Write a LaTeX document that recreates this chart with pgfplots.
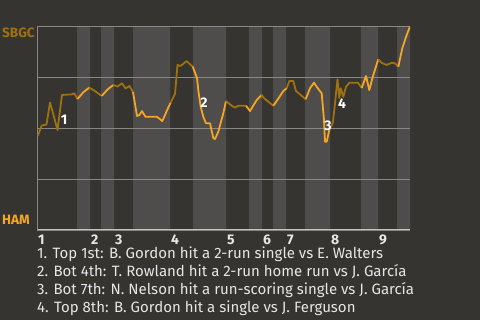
\documentclass[border=0pt]{standalone}
\usepackage{pgfplots}
\pgfplotsset{compat=1.18}
\usepackage{fontspec}
\setmainfont{Fira Sans}
\definecolor{bg}{HTML}{363431}
\definecolor{band}{HTML}{4F4D4B}
\definecolor{gridcol}{HTML}{8A8886}
\definecolor{axiscol}{HTML}{C4C2C0}
\definecolor{topc}{HTML}{A0720F}
\definecolor{botc}{HTML}{F5A623}
\definecolor{txt}{HTML}{E6E6E6}
\pagecolor{bg}
\begin{document}
\begin{tikzpicture}[x=1pt,y=1pt]
\path (0,0) rectangle (480,320);
\begin{axis}[
  at={(37pt,90pt)}, anchor=south west,
  width=373pt, height=204pt, scale only axis,
  set layers,
  xmin=37, xmax=410, ymin=0, ymax=1,
  axis x line*=bottom, axis y line*=left,
  x axis line style={draw=axiscol, line width=1pt},
  y axis line style={draw=gridcol, line width=0.8pt},
  ytick={0,0.25,0.5,0.75,1}, yticklabels={},
  ymajorgrids, grid style={draw=gridcol, line width=0.8pt},
  major tick length=0pt,
  xtick={37,90,114,170,226,262,286,330,378},
  xticklabels={1,2,3,4,5,6,7,8,9},
  /pgf/number format/assume math mode=true,
  xticklabel style={anchor=north west, inner sep=1pt, yshift=-3.5pt, font=\bfseries\fontsize{14}{14}\selectfont, text=txt},
  every axis plot/.append style={line width=1.8pt, line join=round},
]
% bottom-half shading bands
\addplot[on layer=axis background, fill=band, draw=none] coordinates {(77,0)(77,1)(90,1)(90,0)} \closedcycle;
\addplot[on layer=axis background, fill=band, draw=none] coordinates {(101,0)(101,1)(114,1)(114,0)} \closedcycle;
\addplot[on layer=axis background, fill=band, draw=none] coordinates {(133,0)(133,1)(170,1)(170,0)} \closedcycle;
\addplot[on layer=axis background, fill=band, draw=none] coordinates {(193,0)(193,1)(226,1)(226,0)} \closedcycle;
\addplot[on layer=axis background, fill=band, draw=none] coordinates {(249,0)(249,1)(262,1)(262,0)} \closedcycle;
\addplot[on layer=axis background, fill=band, draw=none] coordinates {(273,0)(273,1)(286,1)(286,0)} \closedcycle;
\addplot[on layer=axis background, fill=band, draw=none] coordinates {(305,0)(305,1)(330,1)(330,0)} \closedcycle;
\addplot[on layer=axis background, fill=band, draw=none] coordinates {(361,0)(361,1)(378,1)(378,0)} \closedcycle;
\addplot[on layer=axis background, fill=band, draw=none] coordinates {(397,0)(397,1)(410,1)(410,0)} \closedcycle;
% win probability line (SBGC), coloured by half inning
\addplot[topc] coordinates {(37.7,0.461)(41.7,0.512)(46.5,0.517)(50,0.625)(53.5,0.564)(57.5,0.490)(62,0.662)(72,0.665)(74.3,0.670)(77.5,0.642)};
\addplot[botc] coordinates {(77.5,0.642)(83.3,0.675)(89.3,0.698)};
\addplot[topc] coordinates {(89.3,0.698)(95,0.681)(101.7,0.657)};
\addplot[botc] coordinates {(101.7,0.657)(108,0.691)(113.5,0.711)};
\addplot[topc] coordinates {(113.5,0.711)(117.5,0.703)(122,0.719)(125.5,0.694)(129.5,0.706)(133,0.676)};
\addplot[botc] coordinates {(133,0.676)(137,0.559)(139.5,0.564)(142,0.583)(145.5,0.555)(157,0.555)(162.3,0.534)(166.7,0.583)(170.5,0.623)};
\addplot[topc] coordinates {(170.5,0.623)(175,0.667)(177.5,0.809)(180,0.804)(182.5,0.811)(186.5,0.828)(192.7,0.801)};
\addplot[botc] coordinates {(192.7,0.801)(197,0.745)(198.5,0.678)(200.7,0.604)(203.3,0.555)(206,0.523)(210,0.523)(213.3,0.450)(215,0.446)(218.3,0.482)(223.3,0.572)(226,0.632)};
\addplot[topc] coordinates {(226,0.632)(231.7,0.609)(235,0.600)(238.3,0.609)(246,0.609)};
\addplot[botc] coordinates {(246,0.609)(250,0.583)(256.7,0.637)(261.7,0.662)};
\addplot[topc] coordinates {(261.7,0.662)(264,0.646)(273.3,0.609)};
\addplot[botc] coordinates {(273.3,0.609)(276.7,0.632)(283.3,0.681)(286.7,0.695)};
\addplot[topc] coordinates {(286.7,0.695)(289.3,0.730)(293.3,0.730)(296,0.681)(300,0.665)(305.7,0.641)};
\addplot[botc] coordinates {(305.7,0.641)(310,0.695)(314,0.722)(316.7,0.702)(321.7,0.670)(322.7,0.613)(324,0.539)(325,0.433)(326.7,0.433)(329.3,0.490)};
\addplot[topc] coordinates {(329.3,0.490)(332.7,0.523)(334.3,0.588)(337.5,0.739)(339.3,0.647)(340.7,0.695)(343.3,0.653)(346,0.702)(349.5,0.722)(358,0.722)(361.7,0.696)};
\addplot[botc] coordinates {(361.7,0.696)(366,0.755)(369.3,0.686)(373,0.755)(378.3,0.837)};
\addplot[topc] coordinates {(378.3,0.837)(381.7,0.819)(386.7,0.809)(391.7,0.820)(395,0.817)(398.3,0.800)};
\addplot[botc] coordinates {(398.3,0.800)(402.3,0.891)(406.7,0.956)(410,0.997)};
% event markers
\node[text=white, font=\bfseries\fontsize{14}{14}\selectfont] at (axis cs:64,0.539) {1};
\node[text=white, font=\bfseries\fontsize{14}{14}\selectfont] at (axis cs:204,0.623) {2};
\node[text=white, font=\bfseries\fontsize{14}{14}\selectfont] at (axis cs:328,0.510) {3};
\node[text=white, font=\bfseries\fontsize{14}{14}\selectfont] at (axis cs:342,0.618) {4};
\end{axis}
\node[anchor=west, inner sep=0pt, text=topc, font=\bfseries\fontsize{13.5}{13.5}\selectfont] at (2,287) {SBGC};
\node[anchor=west, inner sep=0pt, text=botc, font=\bfseries\fontsize{13.5}{13.5}\selectfont] at (2,100) {HAM};
\begin{scope}[every node/.style={anchor=base west, inner sep=0pt, text=txt, font=\fontsize{15}{15}\selectfont}]
\node at (37,61) {1. Top 1st: B. Gordon hit a 2-run single vs E. Walters};
\node at (37,43) {2. Bot 4th: T. Rowland hit a 2-run home run vs J. García};
\node at (37,25) {3. Bot 7th: N. Nelson hit a run-scoring single vs J. García};
\node at (37,7) {4. Top 8th: B. Gordon hit a single vs J. Ferguson};
\end{scope}
\pgfresetboundingbox
\useasboundingbox (0,0) rectangle (480,320);
\end{tikzpicture}
\end{document}
